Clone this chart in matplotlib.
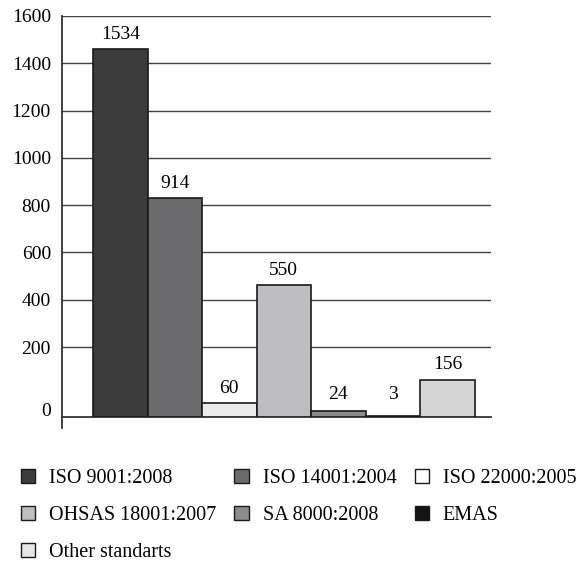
import matplotlib
matplotlib.use("Agg")
import matplotlib.pyplot as plt
from matplotlib.patches import Patch
from matplotlib.transforms import ScaledTranslation
import numpy as np

# certificate counts per standard
standards = ["ISO 9001:2008", "ISO 14001:2004", "ISO 22000:2005",
             "OHSAS 18001:2007", "SA 8000:2008", "EMAS", "Other standarts"]
counts = [1534, 914, 60, 550, 24, 3, 156]
colors = ["#3c3c3c", "#6b6b6e", "#ebebeb", "#bebec0", "#8c8c8e", "#151515", "#d5d5d5"]
legend_colors = ["#3c3c3c", "#6b6b6e", "#ffffff", "#bebec0", "#8c8c8e", "#151515", "#e6e6e6"]
tick_values = [0, 200, 400, 600, 800, 1000, 1200, 1400, 1600]

plt.rcParams["font.family"] = ["Liberation Serif", "DejaVu Serif"]
plt.rcParams["font.size"] = 14

fig = plt.figure(figsize=(5.8, 5.63), dpi=100)
rect = [62 / 580, 1 - 417 / 563, 429 / 580, 401 / 563]

# axis carrying the value scale and the grid
ax = fig.add_axes(rect)
ax.set_ylim(-96, 1600)
ax.set_xlim(0, 1)
ax.set_yticks(tick_values)
ax.set_yticklabels([str(v) for v in tick_values])
ax.tick_params(axis="y", length=0, pad=8)
ax.tick_params(axis="x", length=0, labelbottom=False)
for v in tick_values[1:]:
    ax.axhline(v, color="#444444", lw=1.0, zorder=1)
for s in ax.spines.values():
    s.set_visible(False)
ax.plot([0, 0], [-0.028, 1], transform=ax.transAxes, color="#333333",
        lw=1.3, clip_on=False)
ax.plot([0, 1], [0, 0], transform=ax.transAxes, color="#333333",
        lw=1.3, clip_on=False)
# nudge the "0" label down toward the baseline
zero_lbl = ax.get_yticklabels()[0]
zero_lbl.set_transform(zero_lbl.get_transform() +
                       ScaledTranslation(0, -15 / 100, fig.dpi_scale_trans))

# bars on top of the grid
bx = fig.add_axes(rect)
bx.patch.set_alpha(0)
bx.axis("off")
x = np.arange(len(counts))
bx.bar(x, counts, width=1.0, color=colors, edgecolor="#1a1a1a",
       linewidth=1.2, zorder=3)
bx.set_xlim(-1.07, 6.8)
bx.set_ylim(0, 1671)
for xi, c in zip(x, counts):
    bx.annotate(str(c), (xi, max(c, 35)), xytext=(0, 10.5),
                textcoords="offset points", ha="center", va="center")

# legend filled row by row
handles = [Patch(facecolor=col, edgecolor="#1a1a1a", linewidth=1.0, label=lab)
           for col, lab in zip(legend_colors, standards)]
order = [0, 3, 6, 1, 4, 2, 5]
fig.legend([handles[i] for i in order], [standards[i] for i in order],
           ncol=3, loc="upper left", bbox_to_anchor=(0.036, 1 - 469 / 563),
           frameon=False, fontsize=14.5, handlelength=0.7, handleheight=0.7,
           handletextpad=0.7, columnspacing=0.9, labelspacing=0.88,
           borderaxespad=0, borderpad=0)

fig.savefig("out.png", dpi=100)
